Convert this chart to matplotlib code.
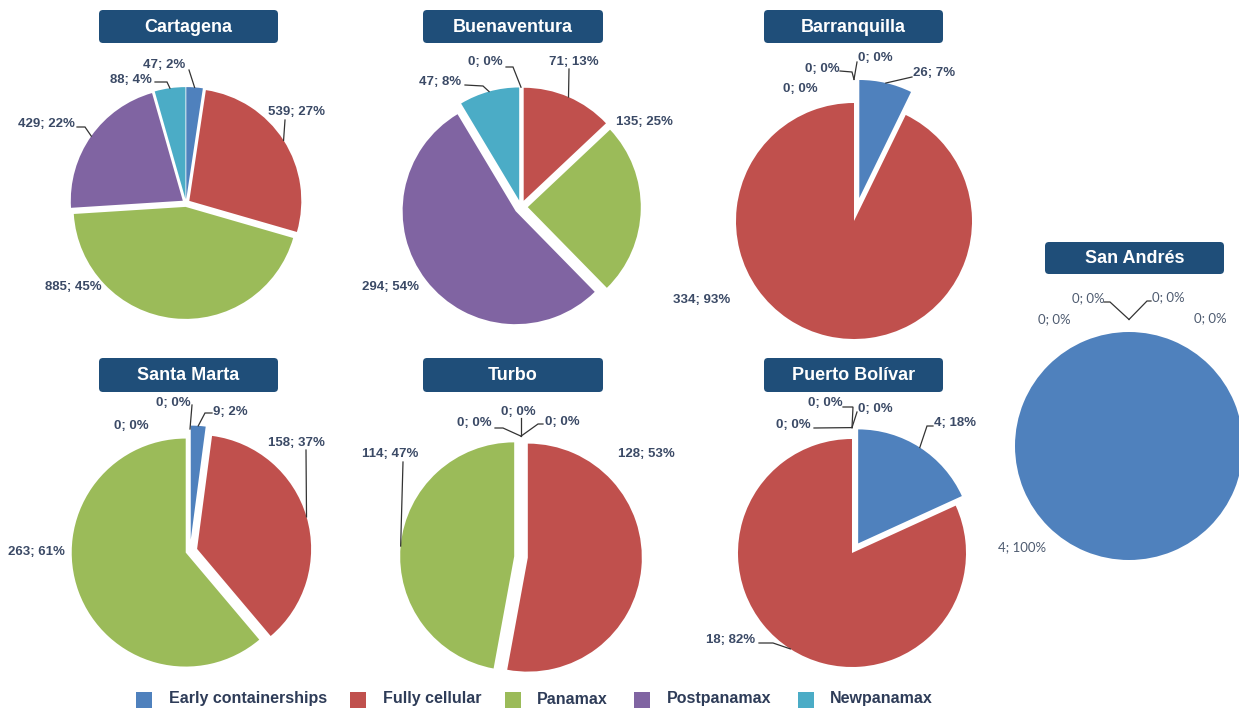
import math

import matplotlib.pyplot as plt
from matplotlib.patches import FancyBboxPatch, Rectangle


W, H = 1239, 710

CATEGORIES = ["Early containerships", "Fully cellular", "Panamax", "Postpanamax", "Newpanamax"]
COLORS = ["#4f81bd", "#c0504d", "#9bbb59", "#8064a2", "#4bacc6"]

# ship counts per port, in CATEGORIES order
cartagena = [47, 539, 885, 429, 88]
buenaventura = [0, 71, 135, 294, 47]
barranquilla = [26, 334, 0, 0, 0]
san_andres = [4, 0, 0, 0, 0]
santa_marta = [9, 158, 263, 0, 0]
turbo = [0, 128, 114, 0, 0]
puerto_bolivar = [4, 18, 0, 0, 0]

# percentages as printed on the chart
cartagena_pct = [2, 27, 45, 22, 4]
buenaventura_pct = [0, 13, 25, 54, 8]
barranquilla_pct = [7, 93, 0, 0, 0]
san_andres_pct = [100, 0, 0, 0, 0]
santa_marta_pct = [2, 37, 61, 0, 0]
turbo_pct = [0, 53, 47, 0, 0]
puerto_bolivar_pct = [18, 82, 0, 0, 0]

TITLE_COLOR = "#1f4e79"
LABEL_COLOR = "#3b4a66"
LINE_COLOR = "#333333"

# layout in pixels (y measured from the top of the image)
# explode is a fraction of the radius
# labels: (x, y, leader points near the label or None)
PORTS = [
    dict(name="Cartagena", values=cartagena, pct=cartagena_pct,
         center=(186, 203), radius=112, explode=[0.035] * 5, box=(99, 278, 10, 43),
         labels=[(164, 65, [(189, 70)]), (297, 112, [(285, 120)]), (73, 287, None),
                 (46, 124, [(77, 127), (85, 127)]), (131, 80, [(155, 82), (167, 82)])]),
    dict(name="Buenaventura", values=buenaventura, pct=buenaventura_pct,
         center=(521, 207), radius=113, explode=[0.06] * 5, box=(423, 603, 10, 43),
         labels=[(485, 62, [(506, 67), (513, 67)]), (574, 62, [(569, 69)]), (644, 122, None),
                 (390, 287, None), (440, 82, [(465, 85), (483, 86)])]),
    dict(name="Barranquilla", values=barranquilla, pct=barranquilla_pct,
         center=(854, 221), radius=118, explode=[0.2, 0, 0.2, 0.2, 0.2], box=(764, 943, 10, 43),
         labels=[(934, 73, [(912, 77)]), (702, 300, None), (800, 89, None),
                 (822, 69, [(840, 71), (852, 72)]), (875, 58, [(857, 62)])]),
    dict(name="San Andrés", values=san_andres, pct=san_andres_pct,
         center=(1129, 446), radius=114, explode=[0, 0.11, 0.11, 0.11, 0.11], box=(1045, 1224, 242, 274),
         plain=True,
         labels=[(1022, 547, None), (1210, 318, None), (1168, 297, [(1151, 301), (1147, 301)]),
                 (1088, 298, [(1104, 302), (1110, 302)]), (1054, 319, None)]),
    dict(name="Santa Marta", values=santa_marta, pct=santa_marta_pct,
         center=(190, 551), radius=114, explode=[0.1, 0.065, 0.04, 0.07, 0.07], box=(99, 278, 358, 392),
         labels=[(230, 412, [(212, 413), (205, 413)]), (296, 443, [(306, 450)]), (36, 552, None),
                 (131, 426, None), (173, 403, [(192, 405)])]),
    dict(name="Turbo", values=turbo, pct=turbo_pct,
         center=(521, 557), radius=114, explode=[0.06] * 5, box=(423, 603, 358, 392),
         labels=[(518, 412, [(521, 418)]), (646, 454, None), (390, 454, [(403, 462)]),
                 (474, 423, [(495, 428), (503, 428)]), (562, 422, [(543, 424), (538, 424)])]),
    dict(name="Puerto Bolívar", values=puerto_bolivar, pct=puerto_bolivar_pct,
         center=(852, 553), radius=114, explode=[0.1, 0, 0.1, 0.1, 0.1], box=(764, 943, 358, 392),
         labels=[(955, 423, [(933, 426), (927, 426)]), (731, 640, [(759, 643), (773, 643)]),
                 (793, 425, [(814, 428)]), (825, 403, [(843, 407), (853, 407)]),
                 (875, 409, [(857, 412)])]),
]

# legend: (square left x, text left x)
LEGEND_X = [(136, 169), (350, 383), (505, 537), (634, 667), (798, 830)]
LEGEND_Y = 699


def draw_port(ax, port):
    cx, cy = port["center"]
    r = port["radius"]
    wedges, _ = ax.pie(
        port["values"], explode=[e * r for e in port["explode"]], colors=COLORS,
        startangle=90, counterclock=False, center=(cx, H - cy),
        radius=r, wedgeprops=dict(linewidth=0),
    )

    plain = port.get("plain", False)
    text_kw = dict(fontsize=9.5, fontweight="bold", color=LABEL_COLOR,
                   family=["Liberation Sans", "DejaVu Sans"])
    if plain:
        text_kw = dict(fontsize=9.5, color="#4e5b70", family=["Lato", "DejaVu Sans"])

    for wedge, v, p, (lx, ly, leader) in zip(wedges, port["values"], port["pct"], port["labels"]):
        ax.text(lx, H - ly, f"{v}; {p}%", ha="center", va="center", **text_kw)
        if leader:
            mid = math.radians((wedge.theta1 + wedge.theta2) / 2)
            wx, wy = wedge.center
            tip = (wx + wedge.r * math.cos(mid), wy + wedge.r * math.sin(mid))
            xs = [pt[0] for pt in leader] + [tip[0]]
            ys = [H - pt[1] for pt in leader] + [tip[1]]
            ax.plot(xs, ys, color=LINE_COLOR, lw=0.9, solid_joinstyle="miter")

    x0, x1, y0, y1 = port["box"]
    ax.add_patch(FancyBboxPatch((x0, H - y1), x1 - x0, y1 - y0,
                                boxstyle="round,pad=0,rounding_size=4",
                                facecolor=TITLE_COLOR, edgecolor="none"))
    ax.text((x0 + x1) / 2, H - (y0 + y1) / 2 - 0.5, port["name"], ha="center", va="center",
            color="white", fontsize=13, fontweight="bold", family=["Liberation Sans", "DejaVu Sans"])


def main():
    fig = plt.figure(figsize=(W / 100, H / 100), dpi=100)
    ax = fig.add_axes([0, 0, 1, 1])

    for port in PORTS:
        draw_port(ax, port)

    for (sx, tx), name, color in zip(LEGEND_X, CATEGORIES, COLORS):
        ax.add_patch(Rectangle((sx, H - LEGEND_Y - 9), 16, 16, facecolor=color, edgecolor="none"))
        ax.text(tx, H - LEGEND_Y, name, ha="left", va="center", fontsize=11.5, fontweight="bold",
                color="#2e3c58", family=["Liberation Sans", "DejaVu Sans"])

    ax.set_xlim(0, W)
    ax.set_ylim(0, H)
    ax.set_aspect("auto")
    ax.axis("off")
    fig.savefig("out.png", dpi=100, facecolor="white")


if __name__ == "__main__":
    main()
